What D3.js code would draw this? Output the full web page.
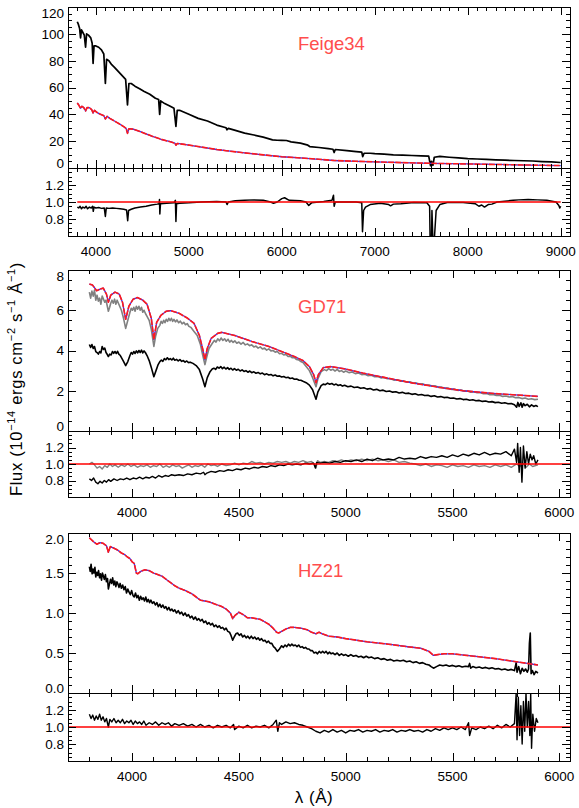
<!DOCTYPE html>
<html><head><meta charset="utf-8">
<script src="https://cdn.jsdelivr.net/npm/d3@7"></script>
<style>body{margin:0;background:#fff}svg{display:block}</style>
</head><body>
<svg id="c" width="579" height="808"></svg>
<script>
// ---------------- DATA ----------------
// Feige34 (wavelength Å, flux 1e-14)
const feige34Observed = [[3800,109],[3812,107],[3825,104],[3835,97],[3845,103],[3860,101],[3875,99],[3889,90],[3900,100],[3920,99],[3945,97],[3960,93],[3970,78],[3980,91],[4000,91],[4030,90],[4060,88],[4085,85],[4102,63],[4115,81],[4140,80],[4170,77],[4200,75],[4240,72],[4280,69],[4320,66],[4340,47],[4355,63],[4380,63],[4420,61],[4470,59],[4520,57],[4580,55],[4640,52],[4675,51],[4686,40],[4697,50],[4740,48],[4800,46],[4840,44.5],[4861,31],[4875,43],[4900,43],[4950,41.5],[5000,40],[5100,37],[5200,35],[5300,32],[5400,30],[5411,28.5],[5425,29.5],[5500,28],[5600,26],[5700,24.6],[5800,23],[5900,21],[5950,20.7],[6000,20.6],[6050,20.5],[6100,19.5],[6200,18.5],[6280,17],[6300,16],[6400,15.3],[6500,14.5],[6550,14],[6563,11.5],[6575,13.8],[6700,13],[6800,12.2],[6860,11.8],[6870,8.5],[6885,11],[6950,11],[7000,10.7],[7100,10.3],[7200,9.8],[7300,9.6],[7400,9.3],[7500,9.1],[7580,8.8],[7600,1.7],[7610,5],[7625,2],[7640,8],[7700,8.6],[7800,8.0],[7900,7.5],[8000,7],[8100,6.7],[8200,6.4],[8300,6.1],[8400,5.8],[8500,5.6],[8600,5.4],[8700,5.2],[8800,4.8],[8900,4.5],[9000,4.1]];
const feige34Model = [[3800,48.5],[3815,47],[3835,44.5],[3850,46],[3870,45],[3889,42.5],[3905,45],[3930,45],[3955,43.5],[3970,41],[3985,43],[4010,41.5],[4050,40],[4085,39],[4102,36.5],[4120,38.5],[4150,37],[4200,35],[4250,33],[4300,30.8],[4325,29.5],[4340,25.8],[4355,29.3],[4400,29],[4500,26.5],[4600,23.8],[4686,21.8],[4700,21.4],[4800,19.6],[4850,18.5],[4861,17],[4875,18.3],[4950,17.6],[5100,16],[5300,13.8],[5400,12.9],[5600,11.3],[5800,9.8],[6000,8.4],[6200,7.5],[6400,6.5],[6563,5.6],[6800,5.0],[7000,4.6],[7300,4.0],[7600,3.5],[8000,3.0],[8500,2.4],[9000,1.8]];
const feige34Ratio = [[3800,0.94],[3815,0.93],[3830,0.95],[3845,0.92],[3860,0.94],[3880,0.93],[3895,0.95],[3910,0.92],[3930,0.94],[3950,0.93],[3965,0.95],[3972,0.89],[3980,0.94],[4000,0.93],[4030,0.935],[4060,0.925],[4090,0.93],[4102,0.83],[4112,0.93],[4140,0.925],[4180,0.93],[4220,0.925],[4260,0.92],[4300,0.915],[4330,0.905],[4342,0.78],[4352,0.9],[4380,0.915],[4420,0.93],[4480,0.94],[4540,0.95],[4600,0.965],[4660,0.975],[4680,0.98],[4684,1.03],[4688,0.86],[4695,0.98],[4760,0.985],[4840,0.99],[4855,1.02],[4861,0.77],[4868,0.98],[4900,0.985],[5000,0.99],[5130,1.0],[5300,1.005],[5400,1.0],[5411,0.97],[5425,1.0],[5500,1.015],[5600,1.02],[5700,1.025],[5800,1.02],[5880,1.0],[5910,0.985],[5950,1.0],[6000,1.04],[6030,1.05],[6080,1.02],[6200,1.015],[6260,1.0],[6290,0.96],[6320,0.99],[6450,1.005],[6540,1.02],[6556,1.08],[6563,0.95],[6575,1.0],[6680,1.0],[6800,1.0],[6860,0.99],[6868,0.65],[6880,0.9],[6900,0.94],[6950,0.97],[7060,0.985],[7150,0.97],[7170,0.955],[7200,0.975],[7280,0.98],[7420,0.995],[7560,0.99],[7590,0.95],[7595,0.55],[7610,0.55],[7615,0.9],[7625,0.55],[7640,0.55],[7660,0.9],[7700,0.97],[7780,0.995],[7950,0.995],[8080,0.98],[8120,0.95],[8150,0.965],[8180,0.94],[8220,0.97],[8260,0.975],[8315,1.0],[8400,1.01],[8490,1.02],[8550,1.025],[8650,1.03],[8750,1.025],[8850,1.02],[8950,1.0],[8980,0.96],[8990,0.93],[9000,0.95]];
const feige34RefLine = [[3800,1],[9000,1]];

// GD71
const gd71Model = [[3800,7.3],[3815,7.25],[3834,6.97],[3850,7.05],[3865,7.1],[3880,6.8],[3889,6.4],[3900,6.75],[3920,6.9],[3940,6.8],[3955,6.4],[3970,5.55],[3985,6.2],[4005,6.55],[4025,6.63],[4050,6.5],[4070,6.3],[4090,5.6],[4102,4.55],[4115,5.4],[4135,5.75],[4160,5.95],[4180,5.98],[4220,5.85],[4260,5.6],[4290,5.35],[4315,4.75],[4330,4.1],[4341,3.55],[4352,4.1],[4370,4.6],[4400,4.85],[4420,4.9],[4480,4.75],[4560,4.45],[4640,4.2],[4700,3.95],[4760,3.7],[4800,3.5],[4830,3.2],[4850,2.8],[4861,2.4],[4872,2.8],[4895,3.15],[4930,3.2],[5000,3.08],[5080,2.88],[5200,2.62],[5316,2.38],[5450,2.15],[5550,2.0],[5700,1.86],[5900,1.72]];
const gd71Grey = [[3800,6.9],[3806,6.6],[3812,6.95],[3818,6.7],[3824,7.0],[3830,6.5],[3836,6.75],[3842,6.45],[3848,6.6],[3854,6.3],[3860,6.7],[3866,6.55],[3872,6.4],[3878,6.5],[3884,6.2],[3889,5.95],[3895,6.15],[3900,6.35],[3906,6.5],[3912,6.35],[3918,6.55],[3924,6.3],[3930,6.5],[3936,6.35],[3942,6.2],[3950,6.0],[3960,5.6],[3970,5.1],[3980,5.5],[3990,5.9],[3996,6.1],[4002,6.0],[4008,6.15],[4014,5.95],[4020,6.2],[4026,6.05],[4032,6.2],[4038,6.0],[4044,6.15],[4050,5.9],[4056,6.0],[4062,5.85],[4070,5.7],[4080,5.5],[4090,5.05],[4102,4.2],[4110,4.7],[4120,5.1],[4130,5.25],[4136,5.45],[4142,5.35],[4148,5.5],[4154,5.38],[4160,5.55],[4166,5.45],[4172,5.6],[4178,5.48],[4184,5.6],[4190,5.45],[4196,5.55],[4203,5.42],[4210,5.52],[4218,5.38],[4226,5.46],[4234,5.32],[4242,5.4],[4250,5.28],[4258,5.34],[4266,5.2],[4275,5.15],[4290,4.95],[4305,4.75],[4320,4.3],[4330,3.8],[4341,3.3],[4350,3.7],[4360,4.1],[4375,4.35],[4385,4.5],[4393,4.42],[4401,4.58],[4409,4.48],[4417,4.62],[4425,4.5],[4433,4.58],[4441,4.46],[4449,4.56],[4457,4.42],[4465,4.5],[4473,4.4],[4481,4.48],[4490,4.36],[4500,4.42],[4510,4.32],[4520,4.4],[4530,4.28],[4540,4.33],[4550,4.24],[4560,4.28],[4570,4.18],[4580,4.22],[4590,4.12],[4600,4.18],[4610,4.08],[4620,4.12],[4630,4.02],[4640,4.08],[4650,3.98],[4660,4.0],[4670,3.92],[4680,3.95],[4690,3.84],[4700,3.86],[4710,3.78],[4720,3.8],[4730,3.7],[4740,3.72],[4750,3.64],[4760,3.64],[4770,3.55],[4780,3.53],[4790,3.45],[4800,3.4],[4815,3.2],[4830,3.0],[4845,2.65],[4861,2.2],[4870,2.6],[4885,2.95],[4900,3.05],[4910,3.0],[4920,3.1],[4930,3.02],[4940,3.07],[4950,2.98],[4960,3.06],[4970,2.96],[4980,3.0],[4990,2.92],[5000,2.98],[5015,2.9],[5030,2.93],[5045,2.85],[5060,2.88],[5075,2.8],[5090,2.82],[5105,2.75],[5120,2.77],[5135,2.7],[5150,2.71],[5165,2.64],[5180,2.66],[5195,2.6],[5210,2.6],[5225,2.53],[5240,2.55],[5255,2.48],[5270,2.49],[5285,2.43],[5300,2.45],[5315,2.38],[5330,2.39],[5345,2.33],[5360,2.35],[5375,2.28],[5390,2.28],[5405,2.23],[5420,2.24],[5435,2.17],[5450,2.18],[5465,2.12],[5480,2.13],[5495,2.07],[5510,2.08],[5525,2.02],[5540,2.04],[5555,1.98],[5570,1.99],[5585,1.93],[5600,1.95],[5615,1.9],[5630,1.9],[5645,1.85],[5660,1.86],[5675,1.8],[5690,1.82],[5705,1.77],[5720,1.78],[5735,1.72],[5750,1.74],[5765,1.69],[5780,1.71],[5795,1.65],[5810,1.67],[5825,1.61],[5840,1.64],[5855,1.58],[5870,1.6],[5885,1.56],[5900,1.58]];
const gd71Black = [[3800,4.3],[3806,4.15],[3812,4.3],[3818,4.1],[3824,4.2],[3830,3.95],[3836,3.9],[3842,3.82],[3848,3.95],[3854,3.88],[3860,4.2],[3866,4.05],[3872,4.12],[3878,3.9],[3884,3.8],[3889,3.7],[3895,3.82],[3902,3.78],[3908,3.95],[3914,3.86],[3920,3.95],[3926,3.85],[3932,3.96],[3938,3.82],[3945,3.75],[3958,3.5],[3970,3.25],[3980,3.45],[3990,3.75],[3996,3.9],[4002,3.82],[4008,3.95],[4014,3.85],[4020,3.98],[4026,3.88],[4032,4.0],[4038,3.9],[4044,4.02],[4050,3.88],[4056,3.98],[4062,3.9],[4070,3.75],[4080,3.5],[4090,3.15],[4102,2.7],[4112,3.0],[4122,3.3],[4130,3.45],[4137,3.52],[4144,3.46],[4151,3.6],[4158,3.54],[4165,3.64],[4172,3.55],[4179,3.6],[4186,3.53],[4193,3.62],[4200,3.52],[4208,3.56],[4216,3.48],[4224,3.55],[4232,3.46],[4240,3.5],[4248,3.42],[4256,3.48],[4264,3.4],[4272,3.42],[4285,3.36],[4300,3.25],[4315,3.05],[4330,2.6],[4341,2.2],[4352,2.65],[4365,2.95],[4375,3.08],[4383,3.12],[4391,3.06],[4399,3.18],[4407,3.12],[4415,3.2],[4423,3.1],[4431,3.17],[4439,3.08],[4447,3.15],[4455,3.06],[4463,3.12],[4471,3.03],[4479,3.1],[4488,3.02],[4497,3.07],[4506,2.98],[4515,3.04],[4524,2.96],[4533,3.0],[4542,2.92],[4551,2.98],[4560,2.9],[4570,2.94],[4580,2.87],[4590,2.91],[4600,2.84],[4610,2.88],[4620,2.8],[4630,2.84],[4640,2.78],[4650,2.81],[4660,2.74],[4670,2.78],[4680,2.72],[4690,2.74],[4700,2.68],[4710,2.71],[4720,2.65],[4730,2.67],[4740,2.61],[4750,2.63],[4760,2.57],[4770,2.58],[4780,2.53],[4790,2.52],[4800,2.47],[4815,2.4],[4830,2.28],[4845,2.05],[4861,1.58],[4870,1.95],[4885,2.25],[4895,2.33],[4905,2.3],[4915,2.38],[4925,2.32],[4935,2.36],[4945,2.29],[4955,2.33],[4965,2.26],[4975,2.3],[4985,2.23],[4995,2.27],[5010,2.2],[5025,2.23],[5040,2.16],[5055,2.19],[5070,2.12],[5085,2.15],[5100,2.08],[5115,2.11],[5130,2.04],[5145,2.07],[5160,2.0],[5175,2.03],[5190,1.96],[5205,1.99],[5220,1.93],[5235,1.95],[5250,1.89],[5265,1.92],[5280,1.86],[5295,1.88],[5310,1.82],[5325,1.85],[5340,1.79],[5355,1.81],[5370,1.76],[5385,1.78],[5400,1.72],[5415,1.75],[5430,1.69],[5445,1.71],[5460,1.66],[5475,1.68],[5490,1.63],[5505,1.64],[5520,1.59],[5535,1.61],[5550,1.56],[5565,1.58],[5580,1.53],[5595,1.55],[5610,1.5],[5625,1.52],[5640,1.47],[5655,1.49],[5670,1.44],[5685,1.46],[5700,1.41],[5715,1.43],[5730,1.38],[5745,1.4],[5760,1.35],[5775,1.37],[5790,1.3],[5800,1.18],[5806,1.42],[5812,1.22],[5820,1.4],[5826,1.18],[5832,1.36],[5840,1.26],[5850,1.33],[5860,1.2],[5870,1.3],[5880,1.22],[5890,1.27],[5900,1.21]];
const gd71GreyRatio = [[3800,1.0],[3812,1.02],[3824,0.99],[3836,0.95],[3848,0.97],[3860,0.94],[3872,0.98],[3884,0.96],[3896,1.0],[3908,0.97],[3920,0.99],[3935,0.96],[3950,0.99],[3965,0.97],[3980,1.0],[3995,0.97],[4010,0.99],[4025,0.96],[4040,0.98],[4055,0.97],[4070,0.99],[4085,0.96],[4100,0.98],[4115,0.97],[4130,1.0],[4145,0.96],[4160,0.98],[4175,0.96],[4190,0.99],[4205,0.97],[4220,0.98],[4235,0.95],[4250,0.97],[4265,0.99],[4280,0.96],[4295,0.98],[4310,0.97],[4325,0.99],[4340,0.96],[4355,1.0],[4370,0.98],[4385,0.99],[4400,0.97],[4420,1.0],[4440,0.98],[4460,0.99],[4480,1.01],[4500,0.99],[4520,1.01],[4540,1.0],[4560,1.03],[4580,1.01],[4600,1.02],[4620,1.0],[4640,1.02],[4660,1.01],[4680,1.03],[4700,1.02],[4720,1.03],[4740,1.01],[4760,1.03],[4780,1.02],[4800,1.04],[4820,1.02],[4840,1.03],[4855,0.99],[4861,0.95],[4868,1.04],[4880,1.02],[4900,1.03],[4920,1.02],[4940,1.04],[4960,1.03],[4980,1.05],[5000,1.03],[5025,1.05],[5050,1.04],[5075,1.06],[5100,1.04],[5125,1.06],[5150,1.04],[5175,1.05],[5200,1.03],[5225,1.05],[5250,1.02],[5275,1.03],[5300,1.01],[5325,1.0],[5350,0.98],[5375,1.0],[5400,0.97],[5425,0.99],[5450,0.98],[5475,0.96],[5500,0.99],[5525,0.97],[5550,0.98],[5575,0.96],[5600,0.99],[5625,0.97],[5650,0.98],[5675,0.96],[5700,0.99],[5725,0.97],[5750,0.99],[5775,0.96],[5800,1.0],[5815,0.97],[5830,1.01],[5845,0.96],[5860,1.0],[5875,0.97],[5900,0.99]];
const gd71BlackRatio = [[3800,0.82],[3810,0.8],[3820,0.83],[3830,0.78],[3840,0.76],[3850,0.79],[3860,0.77],[3870,0.8],[3880,0.78],[3890,0.81],[3900,0.79],[3915,0.82],[3930,0.8],[3945,0.82],[3960,0.81],[3975,0.83],[3990,0.81],[4005,0.83],[4020,0.82],[4035,0.84],[4050,0.82],[4065,0.84],[4080,0.83],[4095,0.85],[4110,0.83],[4125,0.86],[4140,0.84],[4155,0.86],[4170,0.85],[4185,0.87],[4200,0.86],[4220,0.87],[4240,0.86],[4260,0.88],[4280,0.87],[4300,0.89],[4320,0.88],[4335,0.9],[4341,0.87],[4350,0.89],[4370,0.91],[4390,0.9],[4410,0.92],[4430,0.91],[4450,0.93],[4470,0.92],[4490,0.94],[4510,0.93],[4530,0.95],[4550,0.94],[4570,0.96],[4590,0.95],[4610,0.97],[4630,0.96],[4650,0.98],[4670,0.97],[4690,0.99],[4710,0.98],[4730,1.0],[4750,0.99],[4770,1.0],[4790,0.99],[4810,1.01],[4830,1.0],[4850,1.01],[4858,0.95],[4864,1.02],[4880,1.01],[4900,1.02],[4925,1.01],[4950,1.03],[4975,1.02],[5000,1.04],[5025,1.03],[5050,1.05],[5075,1.03],[5100,1.06],[5125,1.04],[5150,1.07],[5175,1.05],[5200,1.06],[5225,1.05],[5250,1.08],[5275,1.06],[5300,1.07],[5325,1.06],[5350,1.09],[5375,1.07],[5400,1.09],[5425,1.08],[5450,1.1],[5475,1.08],[5500,1.11],[5525,1.09],[5550,1.12],[5575,1.1],[5600,1.13],[5625,1.11],[5650,1.14],[5675,1.11],[5700,1.13],[5725,1.12],[5750,1.15],[5775,1.1],[5790,1.18],[5800,1.02],[5805,1.25],[5812,0.9],[5818,1.2],[5825,0.78],[5832,1.22],[5840,0.95],[5848,1.15],[5856,1.0],[5864,1.12],[5872,1.05],[5880,1.1],[5890,1.0],[5900,1.05]];
const gd71RefLine = [[3700,1],[6050,1]];

// HZ21
const hz21Model = [[3800,1.94],[3808,1.92],[3820,1.89],[3835,1.86],[3850,1.88],[3865,1.87],[3880,1.84],[3889,1.76],[3898,1.83],[3915,1.81],[3930,1.79],[3950,1.75],[3965,1.73],[3978,1.7],[3990,1.68],[4000,1.64],[4010,1.62],[4020,1.5],[4026,1.49],[4040,1.52],[4060,1.54],[4080,1.53],[4100,1.5],[4120,1.48],[4140,1.46],[4160,1.42],[4180,1.38],[4200,1.34],[4220,1.31],[4250,1.28],[4280,1.24],[4300,1.2],[4320,1.16],[4340,1.15],[4360,1.14],[4380,1.12],[4400,1.1],[4420,1.08],[4440,1.05],[4460,1.0],[4471,0.93],[4482,0.97],[4500,1.01],[4520,0.98],[4540,0.94],[4560,0.94],[4580,0.93],[4600,0.92],[4620,0.89],[4640,0.86],[4660,0.81],[4676,0.76],[4686,0.75],[4700,0.77],[4720,0.8],[4740,0.82],[4760,0.82],[4790,0.81],[4820,0.79],[4840,0.76],[4861,0.74],[4875,0.76],[4890,0.74],[4920,0.71],[4960,0.7],[5000,0.68],[5050,0.66],[5100,0.64],[5200,0.61],[5300,0.575],[5350,0.56],[5390,0.52],[5411,0.47],[5430,0.48],[5460,0.49],[5500,0.49],[5600,0.46],[5700,0.43],[5800,0.39],[5850,0.37],[5900,0.35]];
const hz21Observed = [[3800,1.58],[3804,1.52],[3808,1.61],[3813,1.49],[3817,1.55],[3821,1.5],[3826,1.57],[3830,1.45],[3835,1.51],[3839,1.47],[3843,1.53],[3848,1.44],[3852,1.49],[3857,1.41],[3861,1.5],[3866,1.46],[3870,1.42],[3875,1.48],[3880,1.39],[3885,1.43],[3889,1.3],[3894,1.36],[3899,1.42],[3904,1.37],[3909,1.44],[3914,1.35],[3919,1.4],[3924,1.33],[3929,1.39],[3934,1.36],[3939,1.32],[3944,1.37],[3950,1.31],[3956,1.35],[3962,1.29],[3968,1.33],[3974,1.25],[3980,1.3],[3986,1.26],[3992,1.23],[3998,1.28],[4004,1.22],[4010,1.2],[4016,1.25],[4022,1.19],[4028,1.22],[4034,1.16],[4040,1.21],[4046,1.17],[4052,1.19],[4058,1.15],[4064,1.2],[4070,1.14],[4076,1.17],[4082,1.13],[4088,1.16],[4095,1.12],[4102,1.14],[4109,1.1],[4116,1.13],[4123,1.08],[4130,1.11],[4137,1.07],[4144,1.1],[4151,1.06],[4158,1.08],[4165,1.04],[4172,1.07],[4179,1.03],[4186,1.05],[4193,1.02],[4200,1.04],[4208,1.0],[4216,1.03],[4224,0.99],[4232,1.01],[4240,0.97],[4248,1.0],[4256,0.96],[4264,0.98],[4272,0.94],[4280,0.96],[4288,0.92],[4296,0.95],[4304,0.91],[4312,0.93],[4320,0.9],[4328,0.92],[4336,0.88],[4344,0.9],[4352,0.86],[4360,0.88],[4368,0.85],[4376,0.87],[4384,0.83],[4392,0.85],[4400,0.82],[4408,0.84],[4416,0.81],[4424,0.82],[4432,0.79],[4440,0.81],[4448,0.77],[4456,0.76],[4463,0.72],[4471,0.66],[4478,0.7],[4486,0.74],[4494,0.75],[4502,0.72],[4510,0.74],[4518,0.7],[4526,0.72],[4534,0.69],[4542,0.71],[4550,0.68],[4558,0.71],[4566,0.68],[4574,0.7],[4582,0.67],[4590,0.69],[4598,0.66],[4606,0.68],[4614,0.65],[4622,0.66],[4630,0.63],[4638,0.65],[4646,0.62],[4654,0.62],[4662,0.58],[4670,0.56],[4680,0.52],[4690,0.55],[4700,0.59],[4708,0.57],[4716,0.6],[4724,0.58],[4732,0.61],[4740,0.59],[4748,0.61],[4756,0.59],[4764,0.6],[4772,0.58],[4780,0.6],[4788,0.57],[4796,0.58],[4804,0.56],[4812,0.57],[4820,0.55],[4828,0.55],[4836,0.53],[4844,0.53],[4852,0.5],[4860,0.51],[4868,0.49],[4876,0.52],[4884,0.5],[4892,0.52],[4900,0.5],[4908,0.52],[4916,0.49],[4924,0.51],[4932,0.49],[4940,0.5],[4950,0.48],[4960,0.5],[4970,0.47],[4980,0.49],[4990,0.47],[5000,0.48],[5012,0.46],[5024,0.48],[5036,0.46],[5048,0.47],[5060,0.45],[5072,0.46],[5084,0.44],[5096,0.46],[5108,0.44],[5120,0.45],[5135,0.43],[5150,0.44],[5165,0.42],[5180,0.43],[5195,0.41],[5210,0.42],[5225,0.4],[5240,0.41],[5255,0.4],[5270,0.41],[5285,0.39],[5300,0.4],[5315,0.38],[5330,0.39],[5345,0.37],[5360,0.38],[5375,0.36],[5390,0.35],[5400,0.33],[5411,0.31],[5425,0.33],[5440,0.35],[5455,0.34],[5470,0.35],[5485,0.335],[5500,0.345],[5515,0.33],[5530,0.34],[5545,0.325],[5560,0.335],[5575,0.33],[5580,0.37],[5585,0.31],[5595,0.33],[5610,0.315],[5625,0.325],[5640,0.31],[5655,0.32],[5670,0.305],[5685,0.315],[5700,0.3],[5715,0.305],[5730,0.29],[5745,0.3],[5760,0.285],[5775,0.295],[5790,0.28],[5798,0.38],[5802,0.26],[5810,0.33],[5818,0.24],[5826,0.31],[5834,0.27],[5842,0.3],[5850,0.26],[5856,0.3],[5860,0.62],[5864,0.75],[5868,0.24],[5874,0.28],[5882,0.23],[5890,0.27],[5900,0.25]];
const hz21Ratio = [[3800,1.15],[3808,1.1],[3816,1.14],[3824,1.08],[3832,1.13],[3840,1.09],[3848,1.15],[3856,1.08],[3864,1.12],[3872,1.06],[3880,1.1],[3889,1.0],[3896,1.09],[3905,1.06],[3915,1.1],[3925,1.05],[3935,1.08],[3945,1.05],[3955,1.09],[3965,1.04],[3975,1.07],[3985,1.05],[3995,1.08],[4005,1.03],[4015,1.07],[4025,1.04],[4035,1.06],[4045,1.03],[4055,1.07],[4065,1.02],[4080,1.05],[4095,1.03],[4110,1.06],[4125,1.02],[4140,1.05],[4155,1.03],[4170,1.05],[4185,1.01],[4200,1.04],[4220,1.02],[4240,1.04],[4260,1.01],[4280,1.03],[4300,1.0],[4320,1.03],[4340,1.0],[4360,1.02],[4380,0.99],[4400,1.02],[4420,1.0],[4440,1.02],[4460,0.99],[4475,1.03],[4480,0.97],[4500,1.01],[4520,0.99],[4540,1.02],[4560,0.99],[4580,1.01],[4600,1.0],[4620,1.02],[4640,0.99],[4660,1.03],[4675,1.08],[4682,0.95],[4690,1.05],[4700,1.03],[4720,1.06],[4740,1.04],[4760,1.05],[4780,1.03],[4800,1.02],[4820,1.0],[4840,0.98],[4860,0.95],[4880,0.93],[4900,0.96],[4920,0.94],[4940,0.97],[4960,0.94],[4980,0.96],[5000,0.93],[5020,0.96],[5040,0.95],[5060,0.97],[5080,0.94],[5100,0.96],[5120,0.95],[5140,0.97],[5160,0.94],[5180,0.96],[5200,0.95],[5220,0.97],[5240,0.94],[5260,0.96],[5280,0.95],[5300,0.97],[5320,0.95],[5340,0.96],[5360,0.94],[5380,0.97],[5400,0.95],[5420,0.98],[5440,0.96],[5460,0.99],[5480,0.97],[5500,0.99],[5520,0.97],[5540,1.0],[5560,0.97],[5575,1.05],[5580,0.9],[5590,0.99],[5610,0.97],[5630,1.0],[5650,0.98],[5670,1.01],[5690,0.98],[5710,1.02],[5730,0.99],[5750,1.03],[5770,1.0],[5790,1.04],[5798,1.4],[5802,0.85],[5808,1.35],[5814,0.9],[5820,1.25],[5826,0.8],[5832,1.3],[5838,0.95],[5844,1.4],[5850,1.0],[5856,1.3],[5862,0.9],[5866,1.4],[5870,0.75],[5876,1.15],[5884,0.95],[5892,1.1],[5900,1.05]];
const hz21RefLine = [[3700,1],[6050,1]];

// Ticks & labels
const starNames = ["Feige34","GD71","HZ21"];
const xTicksWide = [4000,5000,6000,7000,8000,9000];
const xTicksNarrow = [4000,4500,5000,5500,6000];
const feige34YTicks = [0,20,40,60,80,100,120];
const gd71YTicks = [0,2,4,6,8];
const hz21YTicks = [0,0.5,1,1.5,2];
const hz21YLabels = ["0.0","0.5","1.0","1.5","2.0"];
const ratioYTicks = [0.8,1.0,1.2];
const ratioYLabels = ["0.8","1.0","1.2"];

// ---------------- LAYOUT ----------------
const L = 68, R = 570;
const svg = d3.select('#c');
const FONT = "'Liberation Sans', Arial, sans-serif";
let clipN = 0;

function area(top, bottom, xDom, yDom, xMaj, xMinStep, yMaj, yMinStep, yLabels, xLabels) {
  const x = d3.scaleLinear().domain(xDom).range([L, R]);
  const y = d3.scaleLinear().domain(yDom).range([bottom, top]);
  const id = 'clip' + (clipN++);
  svg.append('clipPath').attr('id', id).append('rect')
    .attr('x', L).attr('y', top).attr('width', R - L).attr('height', bottom - top);
  const plot = svg.append('g').attr('clip-path', `url(#${id})`);
  const ax = svg.append('g').attr('stroke', '#000').attr('stroke-width', 1);
  const xMin = d3.range(Math.ceil(xDom[0] / xMinStep) * xMinStep, xDom[1] + 1e-6, xMinStep);
  xMin.forEach(v => {
    const major = xMaj.some(m => Math.abs(m - v) < 1e-6);
    const len = major ? 8 : 4;
    const px = Math.round(x(v)) + 0.5;
    ax.append('line').attr('x1', px).attr('x2', px).attr('y1', bottom).attr('y2', bottom - len);
    ax.append('line').attr('x1', px).attr('x2', px).attr('y1', top).attr('y2', top + len);
  });
  const n = Math.round((yDom[1] - yDom[0]) / yMinStep);
  for (let i = 0; i <= n; i++) {
    const v = yDom[0] + i * yMinStep;
    const major = yMaj.some(m => Math.abs(m - v) < 1e-6);
    const len = major ? 8 : 4;
    const py = Math.round(y(v)) + 0.5;
    ax.append('line').attr('x1', L).attr('x2', L + len).attr('y1', py).attr('y2', py);
    ax.append('line').attr('x1', R).attr('x2', R - len).attr('y1', py).attr('y2', py);
  }
  ax.append('rect').attr('x', L + 0.5).attr('y', top + 0.5).attr('width', R - L).attr('height', bottom - top)
    .attr('fill', 'none');
  yMaj.forEach((v, i) => {
    let py = y(v);
    if (Math.abs(py - top) < 2) py += 6;
    if (Math.abs(py - bottom) < 2) py -= 5;
    svg.append('text').attr('x', 64).attr('y', py).attr('dy', '0.36em')
      .attr('text-anchor', 'end').attr('font-family', FONT).attr('font-size', 13.5)
      .text(yLabels ? yLabels[i] : String(v));
  });
  if (xLabels) {
    xMaj.forEach(v => {
      svg.append('text').attr('x', x(v)).attr('y', bottom + 15).attr('dy', '0.36em')
        .attr('text-anchor', 'middle').attr('font-family', FONT).attr('font-size', 13.5)
        .text(String(v));
    });
  }
  return {x, y, plot};
}

function drawLine(a, data, color, width, dash) {
  const gen = d3.line().x(d => a.x(d[0])).y(d => a.y(d[1]));
  const p = a.plot.append('path').datum(data).attr('d', gen).attr('fill', 'none')
    .attr('stroke', color).attr('stroke-width', width).attr('stroke-linejoin', 'round');
  if (dash) p.attr('stroke-dasharray', dash);
}
function drawModel(a, data) {
  drawLine(a, data, '#3030ff', 1.3);
  drawLine(a, data, '#ff1a1a', 1.6, '6,1.2');
}

// Panel 1: Feige34
const p1 = area(7, 168, [3700, 9100], [0, 120], xTicksWide, 100, feige34YTicks, 5, null, false);
drawLine(p1, feige34Observed, '#000', 1.7);
drawModel(p1, feige34Model);
const r1 = area(168, 236, [3700, 9100], [0.6, 1.4], xTicksWide, 100, ratioYTicks, 0.05, ratioYLabels, true);
drawLine(r1, feige34Ratio, '#000', 1.5);
drawLine(r1, feige34RefLine, '#ff0000', 1.6);

// Panel 2: GD71
const p2 = area(270, 431, [3700, 6050], [0, 8], xTicksNarrow, 100, gd71YTicks, 0.5, null, false);
drawLine(p2, gd71Grey, '#808080', 1.6);
drawModel(p2, gd71Model);
drawLine(p2, gd71Black, '#000', 1.6);
const r2 = area(431, 497, [3700, 6050], [0.6, 1.4], xTicksNarrow, 100, ratioYTicks, 0.05, ratioYLabels, true);
drawLine(r2, gd71GreyRatio, '#808080', 1.4);
drawLine(r2, gd71BlackRatio, '#000', 1.4);
drawLine(r2, gd71RefLine, '#ff0000', 1.6);

// Panel 3: HZ21
const p3 = area(533, 693, [3700, 6050], [0, 2], xTicksNarrow, 100, hz21YTicks, 0.1, hz21YLabels, false);
drawLine(p3, hz21Observed, '#000', 1.6);
drawModel(p3, hz21Model);
const r3 = area(693, 761, [3700, 6050], [0.6, 1.4], xTicksNarrow, 100, ratioYTicks, 0.05, ratioYLabels, true);
drawLine(r3, hz21Ratio, '#000', 1.4);
drawLine(r3, hz21RefLine, '#ff0000', 1.6);

// Star names
[[298, 49.5], [298, 313], [298, 576.5]].forEach((pos, i) => {
  svg.append('text').attr('x', pos[0]).attr('y', pos[1]).attr('font-family', FONT)
    .attr('font-size', 18.5).attr('fill', '#ff4d4d').text(starNames[i]);
});

// Axis titles
const yt = svg.append('text').attr('transform', 'translate(22,379) rotate(-90)')
  .attr('text-anchor', 'middle').attr('font-family', FONT).attr('font-size', 16.5).attr('letter-spacing', 0.7);
yt.append('tspan').text('Flux  (10');
yt.append('tspan').attr('dy', -7).attr('font-size', 11).text('\u221214');
yt.append('tspan').attr('dy', 7).text('  ergs cm');
yt.append('tspan').attr('dy', -7).attr('font-size', 11).text('\u22122');
yt.append('tspan').attr('dy', 7).text('  s');
yt.append('tspan').attr('dy', -7).attr('font-size', 11).text('\u22121');
yt.append('tspan').attr('dy', 7).text('  \u00C5');
yt.append('tspan').attr('dy', -7).attr('font-size', 11).text('\u22121');
yt.append('tspan').attr('dy', 7).text(')');

svg.append('text').attr('x', 314).attr('y', 803).attr('text-anchor', 'middle')
  .attr('font-family', FONT).attr('font-size', 17).attr('letter-spacing', 0.5).text('\u03BB  (\u00C5)');
</script>
</body></html>
